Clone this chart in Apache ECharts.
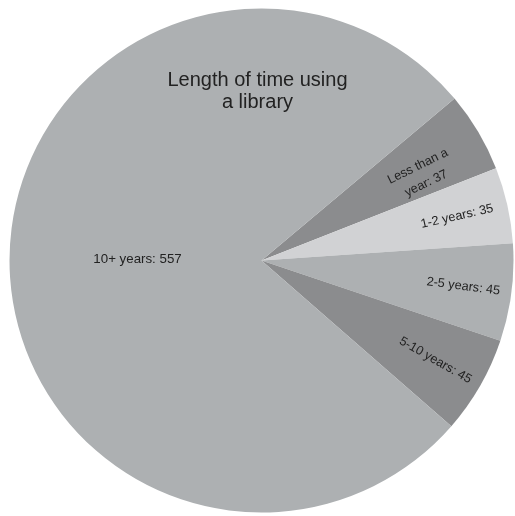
<!DOCTYPE html>
<html>
<head>
<meta charset="utf-8">
<script src="https://cdn.jsdelivr.net/npm/echarts@6/dist/echarts.min.js"></script>
<style>
  html, body { margin: 0; padding: 0; background: #fff; }
  #chart { width: 515px; height: 516px; }
</style>
</head>
<body>
<div id="chart"></div>
<script>
// Survey responses: how long people have been using a library
const categories = ['Less than a year', '1-2 years', '2-5 years', '5-10 years', '10+ years'];
const counts = [37, 35, 45, 45, 557];
const sliceColors = ['#8b8c8e', '#d1d2d4', '#adb0b2', '#8b8c8e', '#adb0b2'];

const FONT = '"Liberation Sans", Arial, Helvetica, sans-serif';
const CENTER = [261.5, 260.5];
const R = 252;

// small screen-space nudges so each slice label sits where it reads best
const labelNudge = [[-18, 10], [0, 0], [3, 0], [0, 0], [5, 0]];
const labelRotate = [26, 'radial', 'radial', 'radial', 0];

const fmt = p => p.name.replace('than a ', 'than a\n') + ': ' + p.value;
const nudge = p => ({ dx: labelNudge[p.dataIndex][0], dy: labelNudge[p.dataIndex][1] });

const chart = echarts.init(document.getElementById('chart'), null, { renderer: 'canvas' });

chart.setOption({
  animation: false,
  backgroundColor: '#ffffff',
  title: {
    text: 'Length of time using\na library',
    left: 'center',
    top: 69,
    padding: 0,
    textStyle: {
      fontSize: 20,
      lineHeight: 22,
      fontWeight: 'normal',
      color: '#222222',
      fontFamily: FONT
    }
  },
  series: [
    {
      // the slices themselves, with the big slice labelled flat
      type: 'pie',
      center: CENTER,
      radius: [0, R],
      startAngle: 40,
      clockwise: true,
      silent: true,
      avoidLabelOverlap: false,
      emphasis: { disabled: true },
      itemStyle: { borderWidth: 0 },
      labelLine: { show: false },
      labelLayout: nudge,
      label: {
        position: 'inside',
        fontSize: 13.3,
        color: '#222222',
        fontFamily: FONT,
        formatter: fmt
      },
      data: categories.map((c, i) => ({
        name: c,
        value: counts[i],
        itemStyle: { color: sliceColors[i] },
        label: { show: i === categories.length - 1, rotate: labelRotate[i] }
      }))
    },
    {
      // transparent ring carrying the tilted labels of the smaller slices
      type: 'pie',
      center: CENTER,
      radius: [143, R],
      startAngle: 40,
      clockwise: true,
      silent: true,
      avoidLabelOverlap: false,
      emphasis: { disabled: true },
      itemStyle: { color: 'rgba(0,0,0,0)', borderWidth: 0 },
      labelLine: { show: false },
      labelLayout: nudge,
      label: {
        position: 'inside',
        fontSize: 12.7,
        lineHeight: 19,
        color: '#222222',
        fontFamily: FONT,
        formatter: fmt
      },
      data: categories.map((c, i) => ({
        name: c,
        value: counts[i],
        label: { show: i !== categories.length - 1, rotate: labelRotate[i] }
      }))
    }
  ]
});
</script>
</body>
</html>
